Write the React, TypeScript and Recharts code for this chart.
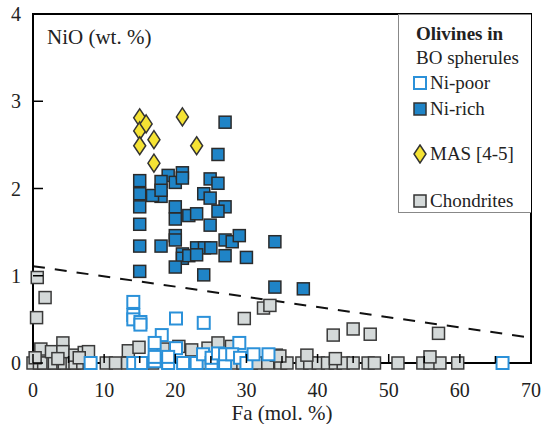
import React from "react";
import { ScatterChart, Scatter, XAxis, YAxis, ReferenceLine, ReferenceArea } from "recharts";

// Fa (mol. %) vs NiO (wt. %)
const niRichFa = [27, 26, 15, 15, 15, 15, 15, 15, 19, 18, 18, 16.8, 18, 20, 21, 21, 20, 20, 21.9, 23, 24, 24.9, 26, 24.9, 27, 26, 24.9, 20, 20, 18, 23, 24.1, 25, 27, 28, 29, 27, 30, 21, 21, 21.9, 23, 20, 24, 34, 34, 38];
const niRichNiO = [2.76, 2.39, 2.09, 1.94, 1.79, 1.59, 1.34, 1.05, 2.15, 2.08, 1.91, 1.92, 1.98, 2.07, 2.18, 2.12, 1.79, 1.65, 1.69, 1.71, 1.94, 2.11, 2.06, 1.89, 1.79, 1.74, 1.58, 1.46, 1.41, 1.34, 1.32, 1.32, 1.32, 1.41, 1.39, 1.46, 1.23, 1.21, 1.25, 1.2, 1.23, 1.24, 1.1, 1.01, 1.39, 0.87, 0.85];

const niPoorFa = [14.1, 14.1, 14.1, 15.1, 15.1, 20.1, 24, 18.1, 17.1, 20.1, 29, 8.1, 14.1, 15.2, 17.1, 17.1, 19, 19, 21.1, 23, 23.9, 25.1, 25.1, 26, 27, 27, 28, 29.1, 30, 31, 33.1, 66];
const niPoorNiO = [0.7, 0.55, 0.5, 0.47, 0.44, 0.51, 0.46, 0.32, 0.23, 0.17, 0.23, 0, 0, 0, 0.02, 0.07, 0, 0.07, 0, 0, 0.1, 0, 0.06, 0.11, 0, 0.1, 0.1, 0.06, 0, 0.1, 0.1, 0];

const masFa = [15, 15, 15.9, 15, 17, 17, 21, 23];
const masNiO = [2.81, 2.66, 2.74, 2.49, 2.56, 2.29, 2.82, 2.49];

const chondFa = [0, 0.9, 1.5, 2.8, 3, 4.2, 4.4, 5.5, 5.9, 7, 7.9, 10.3, 11.6, 13.3, 15.3, 16.8, 19, 22, 24.5, 26, 28, 29.5, 30.7, 31.4, 33, 34.8, 35.7, 37.8, 38.9, 40.1, 41.4, 42.5, 43.6, 45, 47.1, 48, 51.3, 54.8, 55.8, 57.2, 59.7,
  0.6, 1.7, 0.5, 1.1, 2.6, 4.2, 4.2, 5.9, 7.2, 7.8, 13.4, 14.9, 18.3, 20.5, 22.3, 24.6, 26, 27.9, 29.7, 32.4, 33.3, 34.2, 34.7, 38.5, 42.2, 42.5, 45, 47.4, 55.8, 57, 0.3, 3.5, 6.5];
const chondNiO = [0, 0, 0, 0, 0, 0, 0, 0, 0, 0, 0, 0, 0, 0, 0, 0, 0, 0, 0, 0, 0, 0, 0, 0, 0, 0, 0, 0, 0, 0, 0, 0, 0, 0, 0, 0, 0, 0, 0, 0, 0,
  0.98, 0.75, 0.52, 0.16, 0.13, 0.23, 0.13, 0.09, 0.12, 0.13, 0.14, 0.18, 0.16, 0.19, 0.15, 0.17, 0.23, 0.19, 0.51, 0.63, 0.66, 0.09, 0.08, 0.09, 0.32, 0.05, 0.39, 0.33, 0.07, 0.34, 0.06, 0.05, 0.06];

const xTicks = [0, 5, 10, 15, 20, 25, 30, 35, 40, 45, 50, 55, 60, 65, 70];
const yTicks = [0, 1, 2, 3, 4];
const divider = [{ x: 0, y: 1.11 }, { x: 70, y: 0.29 }];

const toPoints = (xs: number[], ys: number[]) => xs.map((x, i) => ({ fa: x, nio: ys[i] }));

const FONT = "Liberation Serif, Times New Roman, serif";
const BLUE = "#1f84c7";
const BLUE_LINE = "#2b91d9";
const GREY = "#d4d9d9";
const YELLOW = "#f5e334";
const PLOT_LEFT = 33;
const PLOT_BOTTOM = 363;

const square = (fill: string, stroke: string, sw: number) => (props: any) => {
  const { cx, cy } = props;
  if (cx == null || cy == null) return null;
  return <rect x={cx - 6} y={cy - 6} width={12} height={12} fill={fill} stroke={stroke} strokeWidth={sw} />;
};

const diamond = (props: any) => {
  const { cx, cy } = props;
  if (cx == null || cy == null) return null;
  return <path d={`M${cx},${cy - 9} L${cx + 6},${cy} L${cx},${cy + 9} L${cx - 6},${cy} Z`} fill={YELLOW} stroke="#333" strokeWidth={1.5} />;
};

const XTick = (props: any) => {
  const { x, payload } = props;
  const major = payload.value % 10 === 0;
  return (
    <g>
      <line x1={x} x2={x} y1={PLOT_BOTTOM} y2={PLOT_BOTTOM - (major ? 9 : 7)} stroke="#000" strokeWidth={1.5} />
      {major && (
        <text x={x} y={PLOT_BOTTOM + 34} textAnchor="middle" style={{ fontFamily: FONT }} fontSize={20} fill="#222">
          {payload.value}
        </text>
      )}
    </g>
  );
};

const YTick = (props: any) => {
  const { y, payload } = props;
  return (
    <g>
      <line x1={PLOT_LEFT} x2={PLOT_LEFT + 10} y1={y} y2={y} stroke="#000" strokeWidth={1.5} />
      <text x={21} y={y + 7} textAnchor="end" style={{ fontFamily: FONT }} fontSize={20} fill="#222">
        {payload.value}
      </text>
    </g>
  );
};

const AxisTitle = (props: any) => {
  const { viewBox } = props;
  const cx = viewBox ? viewBox.x + viewBox.width / 2 : 282;
  return (
    <text x={cx} y={420} textAnchor="middle" style={{ fontFamily: FONT }} fontSize={21} fill="#222">
      Fa (mol. %)
    </text>
  );
};

const LegendIcon = ({ kind }: { kind: string }) => (
  <svg width={14} height={20} style={{ marginRight: 3 }}>
    {kind === "poor" && <rect x={1} y={4} width={12} height={12} fill="#fff" stroke={BLUE_LINE} strokeWidth={2} />}
    {kind === "rich" && <rect x={1} y={4} width={12} height={12} fill={BLUE} stroke="#333" strokeWidth={1.5} />}
    {kind === "mas" && <path d="M7,1 L13,10 L7,19 L1,10 Z" fill={YELLOW} stroke="#333" strokeWidth={1.5} />}
    {kind === "chond" && <rect x={1} y={4} width={12} height={12} fill={GREY} stroke="#333" strokeWidth={1.5} />}
  </svg>
);

const row = (top: number): React.CSSProperties => ({
  position: "absolute",
  left: 14,
  top,
  display: "flex",
  alignItems: "center",
  whiteSpace: "nowrap",
  lineHeight: "22px",
});

const App = () => {
  return (
    <div style={{ position: "absolute", left: 0, top: 0, width: 544, height: 424, background: "#fff" }}>
      <ScatterChart width={544} height={424} margin={{ top: 14, right: 13, bottom: 0, left: 0 }}>
        <XAxis
          type="number"
          dataKey="fa"
          domain={[0, 70]}
          ticks={xTicks}
          tick={<XTick />}
          tickLine={false}
          axisLine={{ stroke: "#000", strokeWidth: 2 }}
          height={61}
          label={<AxisTitle />}
        />
        <YAxis
          type="number"
          dataKey="nio"
          domain={[0, 4]}
          ticks={yTicks}
          tick={<YTick />}
          tickLine={false}
          axisLine={{ stroke: "#000", strokeWidth: 2 }}
          width={33}
        />
        <ReferenceArea x1={0} x2={70} y1={0} y2={4} fill="none" stroke="#000" strokeWidth={2} />
        <ReferenceLine segment={divider} stroke="#111" strokeWidth={2} strokeDasharray="12 10" />
        <Scatter data={toPoints(chondFa, chondNiO)} shape={square(GREY, "#3a3a3a", 1.5)} isAnimationActive={false} />
        <Scatter data={toPoints(niPoorFa, niPoorNiO)} shape={square("#fff", BLUE_LINE, 2)} isAnimationActive={false} />
        <Scatter data={toPoints(niRichFa, niRichNiO)} shape={square(BLUE, "#2b2b2b", 1.5)} isAnimationActive={false} />
        <Scatter data={toPoints(masFa, masNiO)} shape={diamond} isAnimationActive={false} />
      </ScatterChart>

      <div style={{ position: "absolute", left: 47, top: 25, fontFamily: FONT, fontSize: 21, color: "#222", lineHeight: "24px" }}>
        NiO (wt. %)
      </div>

      <div
        style={{
          position: "absolute",
          left: 398,
          top: 14,
          width: 133,
          height: 199,
          border: "1px solid #888",
          borderRight: "none",
          boxSizing: "border-box",
          fontFamily: FONT,
          fontSize: 19,
          color: "#222",
          background: "#fff",
        }}
      >
        <div style={{ ...row(8), left: 17, fontWeight: "bold" }}>Olivines in</div>
        <div style={{ ...row(32), left: 17 }}>BO spherules</div>
        <div style={row(57)}><LegendIcon kind="poor" />Ni-poor</div>
        <div style={row(83)}><LegendIcon kind="rich" />Ni-rich</div>
        <div style={row(128)}><LegendIcon kind="mas" />MAS [4-5]</div>
        <div style={row(175)}><LegendIcon kind="chond" />Chondrites</div>
      </div>
    </div>
  );
};

export default App;
